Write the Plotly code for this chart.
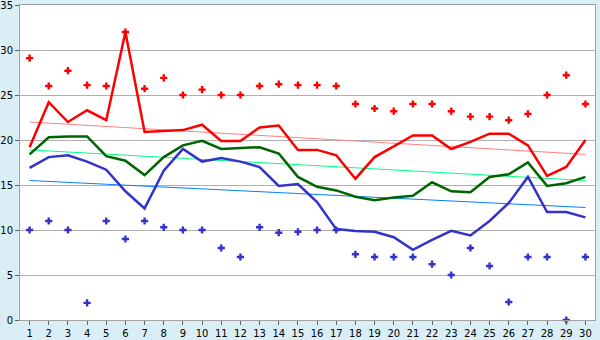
import plotly.graph_objects as go

days = list(range(1, 31))
tick_labels = [str(d) for d in days]

max_points = [29.1, 26.0, 27.7, 26.1, 26.0, 32.0, 25.7, 26.9, 25.0, 25.6,
              25.0, 25.0, 26.0, 26.2, 26.1, 26.1, 26.0, 24.0, 23.5, 23.2,
              24.0, 24.0, 23.2, 22.6, 22.6, 22.2, 22.9, 25.0, 27.2, 24.0]
max_line = [19.2, 24.2, 22.0, 23.3, 22.2, 32.0, 20.9, 21.0, 21.1, 21.7,
            19.9, 19.9, 21.4, 21.6, 18.9, 18.9, 18.3, 15.7, 18.1, 19.3,
            20.5, 20.5, 19.0, 19.8, 20.7, 20.7, 19.4, 16.0, 17.0, 20.0]
mean_line = [18.4, 20.3, 20.4, 20.4, 18.2, 17.7, 16.1, 18.1, 19.4, 19.9,
             19.0, 19.1, 19.2, 18.5, 15.9, 14.8, 14.4, 13.7, 13.3, 13.6,
             13.8, 15.3, 14.3, 14.2, 15.9, 16.2, 17.5, 14.9, 15.2, 15.9]
min_line = [16.9, 18.1, 18.3, 17.6, 16.7, 14.3, 12.4, 16.6, 19.0, 17.6,
            18.0, 17.6, 17.0, 14.9, 15.1, 13.1, 10.1, 9.9, 9.8, 9.2,
            7.8, 8.9, 9.9, 9.4, 11.0, 13.0, 15.9, 12.0, 12.0, 11.4]
min_points = [10.0, 11.0, 10.0, 1.9, 11.0, 9.0, 11.0, 10.3, 10.0, 10.0,
              8.0, 7.0, 10.3, 9.7, 9.8, 10.0, 10.0, 7.3, 7.0, 7.0,
              7.0, 6.2, 5.0, 8.0, 6.0, 2.0, 7.0, 7.0, 0.0, 7.0]

trend_x = [1, 30]
max_trend = [22.0, 18.4]
mean_trend = [18.9, 15.5]
min_trend = [15.5, 12.5]

fig = go.Figure()

fig.add_trace(go.Scatter(x=trend_x, y=max_trend, mode="lines",
                         line=dict(color="#FF8080", width=1), hoverinfo="skip"))
fig.add_trace(go.Scatter(x=trend_x, y=mean_trend, mode="lines",
                         line=dict(color="#00FF80", width=1), hoverinfo="skip"))
fig.add_trace(go.Scatter(x=trend_x, y=min_trend, mode="lines",
                         line=dict(color="#0080FF", width=1), hoverinfo="skip"))

fig.add_trace(go.Scatter(x=days, y=max_line, mode="lines",
                         line=dict(color="#FF0000", width=2.5)))
fig.add_trace(go.Scatter(x=days, y=mean_line, mode="lines",
                         line=dict(color="#006400", width=2.5)))
fig.add_trace(go.Scatter(x=days, y=min_line, mode="lines",
                         line=dict(color="#3333CC", width=2.5)))

fig.add_trace(go.Scatter(x=days, y=max_points, mode="markers",
                         marker=dict(color="#FF0000", symbol="cross", size=6,
                                     line=dict(width=0)), cliponaxis=False))
fig.add_trace(go.Scatter(x=days, y=min_points, mode="markers",
                         marker=dict(color="#3333CC", symbol="cross", size=6,
                                     line=dict(width=0)), cliponaxis=False))

axis_common = dict(showline=True, linecolor="#A0A0A0", linewidth=1, mirror=True,
                   ticks="outside", ticklen=4, tickcolor="#606060",
                   tickfont=dict(family="DejaVu Sans", size=10, color="#000000"),
                   zeroline=False, automargin=False, ticklabeloverflow="allow")

fig.update_layout(
    width=600, height=340,
    margin=dict(l=20, r=5, t=5, b=20),
    paper_bgcolor="#D9EEF5",
    plot_bgcolor="#FFFFFF",
    showlegend=False,
    xaxis=dict(range=[0.5, 30.5], tickvals=days, ticktext=tick_labels,
               showgrid=False, **axis_common),
    yaxis=dict(range=[0, 35], dtick=5, showgrid=True, gridcolor="#B0B0B0",
               gridwidth=1, **axis_common),
)

fig.write_html("out.html", config={"displayModeBar": False},
               post_script="document.body.style.margin='0';document.body.style.overflow='hidden';")
